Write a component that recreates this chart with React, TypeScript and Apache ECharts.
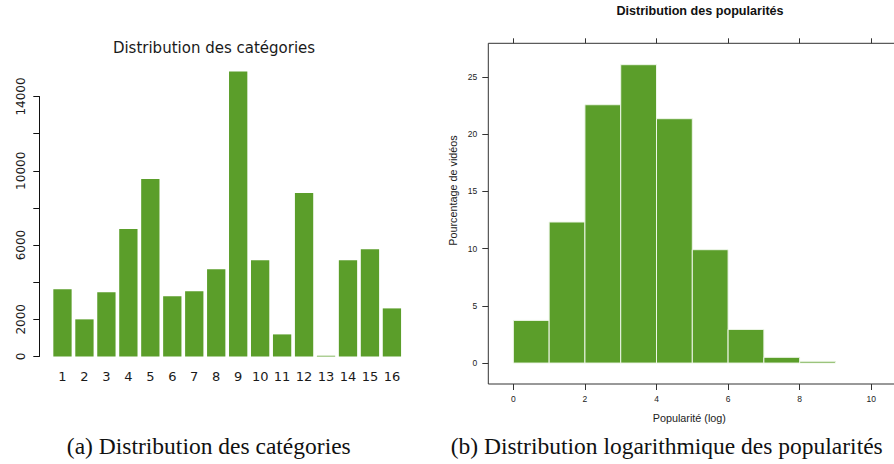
import React, { useEffect, useRef } from "react";
import * as echarts from "echarts";

// ---- Data: left chart (category distribution)
const categories = ["1", "2", "3", "4", "5", "6", "7", "8", "9", "10", "11", "12", "13", "14", "15", "16"];
const categoryCounts = [3620, 2000, 3460, 6860, 9560, 3240, 3510, 4700, 15340, 5180, 1190, 8800, 40, 5180, 5780, 2590];
const leftYLabelsShown = [0, 2000, 6000, 10000, 14000];

// ---- Data: right chart (log popularity histogram)
const popBinEdges = [0, 1, 2, 3, 4, 5, 6, 7, 8, 9, 10];
const popPercent = [3.73, 12.33, 22.58, 26.08, 21.36, 9.91, 2.94, 0.5, 0.15, 0];
const popXTicks = [0, 2, 4, 6, 8, 10];
const popYTicks = [0, 5, 10, 15, 20, 25];

const GREEN = "#5b9e2a";

export default function App() {
  const ref = useRef<HTMLDivElement>(null);

  useEffect(() => {
    if (!ref.current) return;
    const chart = echarts.init(ref.current, undefined, { renderer: "svg" });

    const histData = popPercent.map((v, i) => [popBinEdges[i], popBinEdges[i + 1], v]);

    const option: any = {
      animation: false,
      backgroundColor: "#ffffff",
      title: [
        {
          text: "Distribution des catégories",
          left: 209,
          top: 35.5,
          textAlign: "center",
          textStyle: { fontFamily: "DejaVu Sans", fontSize: 15, fontWeight: "normal", color: "#1a1a1a" },
        },
        {
          text: "Distribution des popularités",
          left: 695,
          top: -0.5,
          textAlign: "center",
          textStyle: { fontFamily: "Liberation Sans", fontSize: 12.6, fontWeight: "bold", color: "#111" },
        },
      ],
      grid: [
        { left: 51.5, top: 96.5, width: 351.4, height: 260, containLabel: false, outerBoundsMode: "none" },
        {
          left: 488.3,
          top: 43.3,
          width: 408,
          height: 340.7,
          show: true,
          borderColor: "#333",
          borderWidth: 1,
          backgroundColor: "transparent",
          containLabel: false,
          outerBoundsMode: "none",
        },
      ],
      xAxis: [
        {
          type: "category",
          gridIndex: 0,
          data: categories,
          axisLine: { show: false },
          axisTick: { show: false },
          axisLabel: { margin: 13, fontFamily: "DejaVu Sans", fontSize: 13, color: "#1a1a1a", interval: 0 },
          splitLine: { show: false },
        },
        {
          type: "value",
          gridIndex: 1,
          min: -0.7,
          max: 10.7,
          position: "bottom",
          axisLine: { show: false, onZero: false },
          axisTick: { show: true, customValues: popXTicks, length: 6, lineStyle: { color: "#333" } },
          axisLabel: {
            customValues: popXTicks,
            margin: 10,
            fontFamily: "Liberation Sans",
            fontSize: 8.5,
            color: "#222",
          },
          splitLine: { show: false },
          name: "Popularité (log)",
          nameLocation: "middle",
          nameGap: 28,
          nameTextStyle: { fontFamily: "Liberation Sans", fontSize: 10.8, color: "#222", padding: [0, 6, 0, 0] },
        },
        {
          type: "value",
          gridIndex: 1,
          min: -0.7,
          max: 10.7,
          position: "top",
          axisLine: { show: false, onZero: false },
          axisTick: { show: true, customValues: popXTicks, length: 5, lineStyle: { color: "#333" } },
          axisLabel: { show: false },
          splitLine: { show: false },
        },
      ],
      yAxis: [
        {
          type: "value",
          gridIndex: 0,
          min: 0,
          max: 14000,
          interval: 2000,
          offset: 12.2,
          axisLine: { show: true, onZero: false, lineStyle: { color: "#111", width: 1 } },
          axisTick: { show: true, length: 6, lineStyle: { color: "#111" } },
          axisLabel: {
            rotate: 90,
            margin: 12,
            fontFamily: "DejaVu Sans",
            fontSize: 12,
            color: "#1a1a1a",
            formatter: (v: number) => (leftYLabelsShown.indexOf(v) >= 0 ? String(v) : ""),
          },
          splitLine: { show: false },
        },
        {
          type: "value",
          gridIndex: 1,
          min: -1.83,
          max: 27.95,
          position: "left",
          axisLine: { show: false, onZero: false },
          axisTick: { show: true, customValues: popYTicks, length: 6, lineStyle: { color: "#333" } },
          axisLabel: {
            customValues: popYTicks,
            margin: 11,
            fontFamily: "Liberation Sans",
            fontSize: 8.5,
            color: "#222",
          },
          splitLine: { show: false },
        },
      ],
      series: [
        {
          type: "bar",
          xAxisIndex: 0,
          yAxisIndex: 0,
          data: categoryCounts,
          barWidth: 18.3,
          clip: false,
          itemStyle: { color: GREEN },
        },
        {
          type: "custom",
          xAxisIndex: 1,
          yAxisIndex: 1,
          data: histData,
          encode: { x: [0, 1], y: 2 },
          clip: false,
          renderItem: (params: any, api: any) => {
            const x0 = api.value(0);
            const x1 = api.value(1);
            const v = api.value(2);
            if (!(v > 0)) return null;
            const p0 = api.coord([x0, v]);
            const p1 = api.coord([x1, 0]);
            return {
              type: "rect",
              shape: { x: p0[0], y: p0[1], width: p1[0] - p0[0], height: p1[1] - p0[1] },
              style: { fill: GREEN, stroke: "#eef6e8", lineWidth: 1 },
            };
          },
        },
      ],
      graphic: [
        {
          type: "text",
          x: 453.3,
          y: 190.5,
          rotation: Math.PI / 2,
          style: {
            text: "Pourcentage de vidéos",
            fontFamily: "Liberation Sans",
            fontSize: 10.8,
            fill: "#222",
            align: "center",
            verticalAlign: "middle",
          },
        },
        {
          type: "text",
          x: 208.8,
          y: 446,
          style: {
            text: "(a) Distribution des catégories",
            fontFamily: "Liberation Serif",
            fontSize: 23.5,
            fill: "#111",
            align: "center",
            verticalAlign: "middle",
          },
        },
        {
          type: "text",
          x: 666.7,
          y: 446,
          style: {
            text: "(b) Distribution logarithmique des popularités",
            fontFamily: "Liberation Serif",
            fontSize: 23.5,
            fill: "#111",
            align: "center",
            verticalAlign: "middle",
          },
        },
      ],
    };

    chart.setOption(option);
    return () => chart.dispose();
  }, []);

  return (
    <div
      ref={ref}
      style={{ position: "fixed", left: 0, top: 0, width: 894, height: 464, background: "#fff" }}
    />
  );
}
